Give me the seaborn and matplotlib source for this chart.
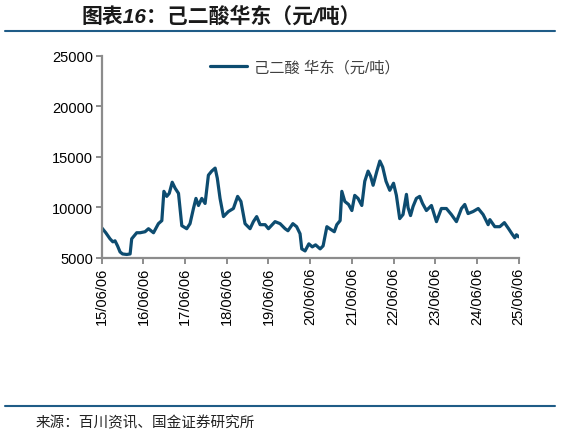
import matplotlib
matplotlib.use("Agg")
import matplotlib.pyplot as plt
import matplotlib.dates as mdates
from matplotlib.lines import Line2D
import pandas as pd
import seaborn as sns

# ---- data ----
dates = [
    "2015-06-06", "2015-07-12", "2015-08-18", "2015-09-12", "2015-10-01", "2015-10-23",
    "2015-11-14", "2015-12-06", "2016-01-11", "2016-02-10", "2016-02-24", "2016-03-17",
    "2016-04-08", "2016-05-08", "2016-06-20", "2016-07-20", "2016-09-02", "2016-10-15",
    "2016-11-14", "2016-12-02", "2016-12-27", "2017-01-18", "2017-02-13", "2017-03-11",
    "2017-04-09", "2017-05-08", "2017-06-20", "2017-07-19", "2017-08-18", "2017-09-09",
    "2017-10-01", "2017-10-30", "2017-11-28", "2017-12-27", "2018-01-25", "2018-02-24",
    "2018-03-15", "2018-04-08", "2018-05-08", "2018-06-20", "2018-08-03", "2018-09-09",
    "2018-10-08", "2018-11-13", "2018-12-27", "2019-01-25", "2019-02-23", "2019-03-25",
    "2019-05-08", "2019-06-06", "2019-08-03", "2019-09-16", "2019-10-30", "2019-11-24",
    "2020-01-06", "2020-02-08", "2020-03-09", "2020-03-24", "2020-04-22", "2020-05-25",
    "2020-06-24", "2020-07-23", "2020-09-01", "2020-09-27", "2020-10-30", "2020-11-24",
    "2021-01-03", "2021-01-25", "2021-02-23", "2021-03-10", "2021-04-05", "2021-05-08",
    "2021-06-06", "2021-07-01", "2021-07-30", "2021-09-01", "2021-09-27", "2021-10-26",
    "2021-11-17", "2021-12-09", "2022-01-11", "2022-02-06", "2022-03-03", "2022-04-01",
    "2022-05-04", "2022-06-06", "2022-07-01", "2022-07-30", "2022-08-28", "2022-09-27",
    "2022-10-11", "2022-11-02", "2022-11-24", "2022-12-23", "2023-01-21", "2023-02-15",
    "2023-03-21", "2023-05-04", "2023-06-17", "2023-07-30", "2023-09-12", "2023-10-26",
    "2023-12-09", "2024-01-22", "2024-02-20", "2024-03-20", "2024-05-03", "2024-06-17",
    "2024-07-30", "2024-09-12", "2024-09-27", "2024-11-09", "2024-12-23", "2025-02-01",
    "2025-03-10", "2025-04-08", "2025-05-03", "2025-05-18", "2025-06-06",
]
values = [
    8000, 7500, 6900, 6600, 6700, 6200,
    5600, 5400, 5350, 5400, 6900, 7200,
    7500, 7500, 7600, 7900, 7500, 8400,
    8700, 11600, 11100, 11400, 12500, 11900,
    11400, 8200, 7900, 8400, 9900, 10900,
    10200, 10900, 10400, 13200, 13600, 13900,
    12900, 10900, 9100, 9600, 9900, 11100,
    10600, 8400, 7900, 8600, 9100, 8300,
    8300, 7900, 8600, 8400, 7900, 7700,
    8400, 8100, 7400, 5900, 5700, 6400,
    6100, 6300, 5900, 6200, 8100, 7900,
    7600, 8300, 8700, 11600, 10600, 10300,
    9700, 11200, 10900, 10200, 12600, 13600,
    13100, 12200, 13600, 14600, 14000, 12600,
    11700, 12400, 11200, 8900, 9300, 11300,
    10000, 9200, 10100, 10900, 11100, 10400,
    9700, 10200, 8600, 9900, 9900, 9300,
    8600, 9900, 10300, 9400, 9600, 9900,
    9300, 8300, 8800, 8100, 8100, 8500,
    7900, 7400, 7000, 7300, 7100,
]
series_name = "己二酸 华东（元/吨）"
title_text = "图表16：己二酸华东（元/吨）"
source_text = "来源：百川资讯、国金证券研究所"
y_ticks = [5000, 10000, 15000, 20000, 25000]
x_tick_dates = ["2015-06-06", "2016-06-06", "2017-06-06", "2018-06-06", "2019-06-06",
                "2020-06-06", "2021-06-06", "2022-06-06", "2023-06-06", "2024-06-06",
                "2025-06-06"]

df = pd.DataFrame({"date": pd.to_datetime(dates), "value": values})

sns.set_theme(style="white")
plt.rcParams["font.family"] = ["Liberation Sans", "Noto Sans CJK SC", "DejaVu Sans"]

line_color = "#0d4c70"
axis_color = "#8c8c8c"

fig = plt.figure(figsize=(5.63, 4.35), dpi=100)
ax = fig.add_axes([0.1806, 0.4046, 0.7406, 0.4644])

sns.lineplot(data=df, x="date", y="value", ax=ax, color=line_color, linewidth=2.3,
             legend=False)

ax.set_ylim(5000, 25000)
ax.set_yticks(y_ticks)
ax.set_xlim(pd.Timestamp(x_tick_dates[0]), pd.Timestamp(x_tick_dates[-1]))
ax.set_xticks(pd.to_datetime(x_tick_dates))
ax.xaxis.set_major_formatter(mdates.DateFormatter("%y/%m/%d"))
ax.set_xlabel("")
ax.set_ylabel("")

for s in ["top", "right"]:
    ax.spines[s].set_visible(False)
for s in ["left", "bottom"]:
    ax.spines[s].set_color(axis_color)
    ax.spines[s].set_linewidth(1.6)

ax.tick_params(axis="both", which="major", direction="out", length=4, width=1.4,
               color=axis_color, labelsize=10.5, labelcolor="#000000", pad=2,
               bottom=True, left=True)
ax.tick_params(axis="x", labelrotation=90)
ax.grid(False)

handle = Line2D([0], [0], color=line_color, linewidth=2.3)
fig.legend([handle], [series_name], loc="center left",
           bbox_to_anchor=(0.373, 0.844), frameon=False, fontsize=11,
           borderpad=0, borderaxespad=0,
           handlelength=2.4, handletextpad=0.45, labelcolor="#404040")

# title and decorative rules
fig.text(0.144, 0.962, title_text, fontsize=15, fontweight="bold", style="italic",
         color="#1a1a1a", ha="left", va="center")
fig.add_artist(Line2D([0.009, 0.986], [0.926, 0.926], color="#1f5c87", linewidth=1.5))
fig.add_artist(Line2D([0.009, 0.986], [0.064, 0.064], color="#1f5c87", linewidth=1.5))
fig.text(0.063, 0.027, source_text, fontsize=10.5, color="#222222", ha="left", va="center")

fig.savefig("out.png", dpi=100)
